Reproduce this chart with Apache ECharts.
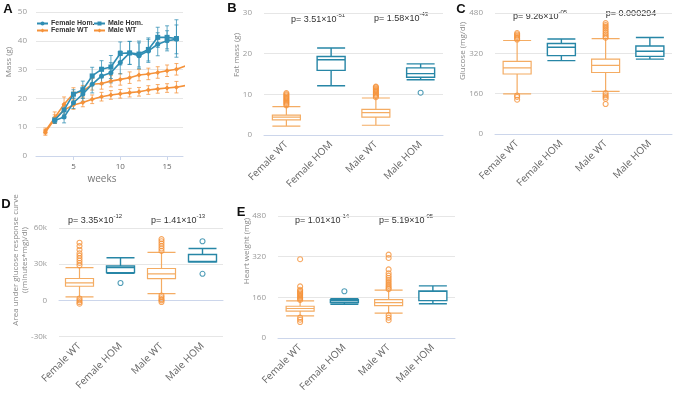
<!DOCTYPE html>
<html>
<head>
<meta charset="utf-8">
<script src="https://cdn.jsdelivr.net/npm/echarts@6/dist/echarts.min.js"></script>
<style>
  html, body { margin: 0; padding: 0; background: #fff; }
  #chart { width: 676px; height: 395px; }
</style>
</head>
<body>
<div id="chart"></div>
<script>
// panel A: body mass by week
var weeksHom = [3, 4, 5, 6, 7, 8, 9, 10, 11, 12, 13, 14, 15, 16];
var weeksWT = [2, 3, 4, 5, 6, 7, 8, 9, 10, 11, 12, 13, 14, 15, 16, 17];
var femaleHom = [12.3, 13.5, 18.5, 21.5, 24.9, 27.8, 28.9, 32.5, 35.8, 34.8, 36.5, 38.8, 40.0, 40.5];
var femaleHomErr = [1, 2, 2, 2.5, 3, 3, 3.5, 4, 4, 4.5, 4, 4, 3.5, 5];
var maleHom = [12.5, 16.0, 21.5, 23.0, 27.8, 30.1, 30.9, 35.6, 35.8, 35.4, 37.0, 41.2, 41.2, 40.8];
var maleHomErr = [1, 1.5, 1.5, 3, 3, 3, 4, 4, 4, 4.5, 4, 3.5, 4, 6.5];
var femaleWT = [8.2, 12.8, 16.0, 17.7, 18.6, 19.7, 20.6, 21.2, 21.6, 22.0, 22.3, 22.9, 23.3, 23.6, 23.9, 24.5];
var femaleWTErr = [1, 1.5, 2, 1.5, 1.5, 1.5, 1.5, 1.5, 1.5, 1.5, 1.5, 1.5, 1.5, 1.5, 2, 2];
var maleWT = [8.7, 13.3, 18.0, 21.7, 22.5, 24.9, 25.2, 26.0, 26.6, 27.2, 28.1, 28.5, 29.0, 29.6, 30.1, 31.3];
var maleWTErr = [1, 2, 2.5, 2, 2, 2, 2, 2, 2, 2, 2, 2, 2, 2, 2, 2];
var weekTicks = [5, 10, 15];

// panels B-E: boxplots [min, Q1, median, Q3, max]
var groups = ['Female WT', 'Female HOM', 'Male WT', 'Male HOM'];
var fatBox = [[2.2, 3.7, 4.4, 4.9, 7.0], [12.1, 15.9, 18.5, 19.3, 21.4], [2.4, 4.4, 5.5, 6.3, 9.1], [13.6, 14.2, 15.1, 16.5, 17.5]];
var fatOut = [
  [7.3, 7.6, 7.9, 8.2, 8.5, 8.8, 9.1, 9.4, 9.7, 10.0, 10.3],
  [],
  [9.3, 9.6, 9.9, 10.2, 10.5, 10.8, 11.1, 11.4, 11.7, 11.9],
  [10.4]
];
var gluBox = [[159, 238, 262, 288, 371], [291, 311, 344, 359, 377], [169, 244, 272, 297, 378], [297, 308, 328, 349, 383]];
var gluOut = [
  [375, 380, 385, 390, 395, 400, 153, 147, 136],
  [],
  [382, 388, 395, 402, 410, 418, 425, 432, 440, 162, 154, 147, 140, 119],
  []
];
var aucBox = [[2800, 11700, 14400, 18100, 27200], [22500, 23000, 27200, 28600, 35300], [5600, 18000, 22000, 26400, 39700], [31800, 32000, 32300, 38000, 43000]];
var aucOut = [
  [29000, 31000, 33000, 35000, 37000, 39000, 42000, 45000, 47800, 1500, 0, -1500, -2800],
  [14400],
  [41000, 43000, 45000, 47000, 49000, 50800, 4000, 2500, 1000, 0, -1400],
  [49000, 22000]
];
var heartBox = [[87, 106, 116, 125, 146], [133, 139, 146, 151, 155], [98, 127, 139, 151, 188], [135, 147, 184, 185, 205]];
var heartOut = [
  [150, 155, 160, 165, 170, 175, 180, 185, 190, 203, 310, 80, 72, 63],
  [184],
  [192, 198, 205, 212, 220, 228, 236, 245, 255, 270, 315, 328, 90, 80, 70],
  []
];
var pFat = [['3.51', '-51'], ['1.58', '-43']];
var pGlu = [['9.26', '-05'], null];
var pAuc = [['3.35', '-12'], ['1.41', '-13']];
var pHeart = [['1.01', '-14'], ['5.19', '-05']];

var BLUE = '#2f8db3';
var ORANGE = '#f5923a';
var WT_BOX = '#f4ac63';
var HOM_BOX = '#2786a6';
var GRID = '#e6e6e6';
var AXIS = '#ccd6eb';
var FONT = '"Open Sans", sans-serif';

var chart = echarts.init(document.getElementById('chart'));

function errData(xs, ys, es) {
  return ys.map(function (y, i) { return [xs[i], y - es[i], y + es[i]]; });
}

function errSeries(name, xs, ys, es, color) {
  return {
    type: 'custom',
    name: name + ' err',
    xAxisIndex: 0, yAxisIndex: 0,
    silent: true,
    z: 1,
    data: errData(xs, ys, es),
    renderItem: function (params, api) {
      var top = api.coord([api.value(0), api.value(2)]);
      var bot = api.coord([api.value(0), api.value(1)]);
      var st = { stroke: color, lineWidth: 1, opacity: 0.75 };
      return {
        type: 'group',
        children: [
          { type: 'line', shape: { x1: top[0], y1: top[1], x2: bot[0], y2: bot[1] }, style: st },
          { type: 'line', shape: { x1: top[0] - 2, y1: top[1], x2: top[0] + 2, y2: top[1] }, style: st },
          { type: 'line', shape: { x1: bot[0] - 2, y1: bot[1], x2: bot[0] + 2, y2: bot[1] }, style: st }
        ]
      };
    }
  };
}

function pairs(xs, ys) {
  return ys.map(function (y, i) { return [xs[i], y]; });
}

var rects = [
  { left: 264, top: 13, width: 179, height: 122 },
  { left: 495, top: 13, width: 177, height: 121 },
  { left: 59, top: 228, width: 164, height: 108.5 },
  { left: 278, top: 216, width: 177, height: 122 }
];
var boxData = [fatBox, gluBox, aucBox, heartBox];
var outData = [fatOut, gluOut, aucOut, heartOut];
var yRanges = [
  { min: 0, max: 30, interval: 10 },
  { min: 0, max: 480, interval: 160 },
  { min: -30000, max: 60000, interval: 30000 },
  { min: 0, max: 480, interval: 160 }
];

var grids = [{ left: 36, top: 12, width: 147, height: 144 }].concat(rects);

var xAxes = [{
  gridIndex: 0, type: 'value', min: 1, max: 16.7,
  axisLine: { lineStyle: { color: AXIS } },
  axisTick: { customValues: weekTicks, length: 4, lineStyle: { color: AXIS } },
  axisLabel: { customValues: weekTicks, color: '#666', fontSize: 8, fontFamily: FONT, margin: 7 },
  splitLine: { show: false }
}];
var yAxes = [{
  gridIndex: 0, type: 'value', min: 0, max: 50, interval: 10,
  axisLine: { show: false }, axisTick: { show: false },
  axisLabel: { color: '#999', fontSize: 8, fontFamily: FONT, margin: 9 },
  splitLine: { lineStyle: { color: GRID } }
}];

rects.forEach(function (r, k) {
  xAxes.push({
    gridIndex: k + 1, type: 'category', data: groups, boundaryGap: true,
    axisLine: { lineStyle: { color: AXIS } },
    axisTick: { interval: 0, length: 6, lineStyle: { color: AXIS } },
    axisLabel: { interval: 0, rotate: 45, color: '#666', fontSize: 10, fontFamily: FONT, margin: 8 }
  });
  var yr = yRanges[k];
  yAxes.push({
    gridIndex: k + 1, type: 'value', min: yr.min, max: yr.max, interval: yr.interval,
    axisLine: { show: false }, axisTick: { show: false },
    axisLabel: {
      color: '#999', fontSize: 8, fontFamily: FONT, margin: 12,
      formatter: k === 2 ? function (v) { return v === 0 ? '0' : (v / 1000) + 'k'; } : null
    },
    splitLine: { lineStyle: { color: GRID } }
  });
});

var series = [
  errSeries('Female WT', weeksWT.slice(0, 15), femaleWT.slice(0, 15), femaleWTErr.slice(0, 15), ORANGE),
  errSeries('Male WT', weeksWT.slice(0, 15), maleWT.slice(0, 15), maleWTErr.slice(0, 15), ORANGE),
  errSeries('Female Hom.', weeksHom, femaleHom, femaleHomErr, BLUE),
  errSeries('Male Hom.', weeksHom, maleHom, maleHomErr, BLUE),
  {
    name: 'Female WT', type: 'line', xAxisIndex: 0, yAxisIndex: 0, data: pairs(weeksWT, femaleWT),
    color: ORANGE, symbol: 'diamond', symbolSize: 5, lineStyle: { width: 1.6 }, z: 3, silent: true
  },
  {
    name: 'Male WT', type: 'line', xAxisIndex: 0, yAxisIndex: 0, data: pairs(weeksWT, maleWT),
    color: ORANGE, symbol: 'diamond', symbolSize: 5, lineStyle: { width: 1.6 }, z: 3, silent: true
  },
  {
    name: 'Female Hom.', type: 'line', xAxisIndex: 0, yAxisIndex: 0, data: pairs(weeksHom, femaleHom),
    color: BLUE, symbol: 'circle', symbolSize: 5, lineStyle: { width: 1.6 }, z: 4, silent: true
  },
  {
    name: 'Male Hom.', type: 'line', xAxisIndex: 0, yAxisIndex: 0, data: pairs(weeksHom, maleHom),
    color: BLUE, symbol: 'rect', symbolSize: 5, lineStyle: { width: 1.6 }, z: 4, silent: true
  }
];

rects.forEach(function (r, k) {
  var idx = k + 1;
  series.push({
    type: 'boxplot', xAxisIndex: idx, yAxisIndex: idx, silent: true,
    boxWidth: [28, 28],
    data: boxData[k].map(function (b, i) {
      var wt = i % 2 === 0;
      return { value: b, itemStyle: { color: '#fff', borderColor: wt ? WT_BOX : HOM_BOX, borderWidth: wt ? 1.2 : 1.4 } };
    })
  });
  var pts = [];
  outData[k].forEach(function (vals, i) {
    vals.forEach(function (v) {
      pts.push({ value: [i, v], itemStyle: { borderColor: i % 2 === 0 ? ORANGE : HOM_BOX } });
    });
  });
  series.push({
    type: 'scatter', xAxisIndex: idx, yAxisIndex: idx, silent: true,
    symbol: 'circle', symbolSize: 5, z: 3,
    itemStyle: { color: 'rgba(255,255,255,0)', borderWidth: 1.1 },
    data: pts
  });
});

var legends = [
  { name: 'Female Hom.', left: 36, top: 20 },
  { name: 'Male Hom.', left: 93, top: 20 },
  { name: 'Female WT', left: 36, top: 27 },
  { name: 'Male WT', left: 93, top: 27 }
].map(function (l) {
  return {
    data: [l.name], left: l.left, top: l.top, itemWidth: 11, itemHeight: 5, itemGap: 4,
    padding: 0, selectedMode: false,
    textStyle: { fontSize: 7, fontWeight: 'bold', color: '#333', fontFamily: 'Liberation Sans', padding: [0, 0, 0, -2] }
  };
});

// text annotations
var graphic = [];
function addText(text, x, y, opts) {
  graphic.push({
    type: 'text', x: x, y: y, rotation: opts.rotation || 0, silent: true,
    style: {
      text: text, fill: opts.fill || '#666',
      font: (opts.weight || 'normal') + ' ' + (opts.size || 8) + 'px ' + (opts.family || FONT),
      align: opts.align || 'center', verticalAlign: 'middle'
    }
  });
}
addText('A', 8, 9, { size: 13, weight: 'bold', fill: '#111', family: 'Liberation Sans' });
addText('B', 232, 8, { size: 13, weight: 'bold', fill: '#111', family: 'Liberation Sans' });
addText('C', 461, 9, { size: 13, weight: 'bold', fill: '#111', family: 'Liberation Sans' });
addText('D', 6, 204, { size: 13, weight: 'bold', fill: '#111', family: 'Liberation Sans' });
addText('E', 241, 212, { size: 13, weight: 'bold', fill: '#111', family: 'Liberation Sans' });
addText('weeks', 102, 179, { size: 10, fill: '#777' });
addText('Mass (g)', 9, 62, { rotation: Math.PI / 2, fill: '#888' });
addText('Fat mass (g)', 237, 55, { rotation: Math.PI / 2, fill: '#888' });
addText('Glucose (mg/dl)', 463, 51, { rotation: Math.PI / 2, fill: '#888' });
addText('Area under glucose response curve', 16, 260, { rotation: Math.PI / 2, fill: '#888' });
addText('((minutes*mg)/dl)', 25, 260, { rotation: Math.PI / 2, fill: '#888' });
addText('Heart weight (mg)', 247, 251, { rotation: Math.PI / 2, fill: '#888' });

function pText(p, x, y) {
  graphic.push({
    type: 'text', x: x, y: y, silent: true,
    style: {
      text: '{a|p= ' + p[0] + '×10}{s|' + p[1] + '}',
      align: 'center', verticalAlign: 'middle',
      rich: {
        a: { fontSize: 9, fill: '#333', fontFamily: 'Liberation Sans', lineHeight: 12, verticalAlign: 'bottom' },
        s: { fontSize: 6, fill: '#333', fontFamily: 'Liberation Sans', lineHeight: 12, verticalAlign: 'top', padding: [0, 0, 5, 0] }
      }
    }
  });
}
pText(pFat[0], 318, 18);
pText(pFat[1], 401, 17);
pText(pGlu[0], 540, 15);
addText('p= 0.000294', 631, 14, { size: 9, fill: '#333', family: 'Liberation Sans' });
pText(pAuc[0], 95, 219);
pText(pAuc[1], 178, 219);
pText(pHeart[0], 322, 219);
pText(pHeart[1], 406, 219);

chart.setOption({
  animation: false,
  grid: grids,
  xAxis: xAxes,
  yAxis: yAxes,
  legend: legends,
  series: series,
  graphic: graphic
});
</script>
</body>
</html>
